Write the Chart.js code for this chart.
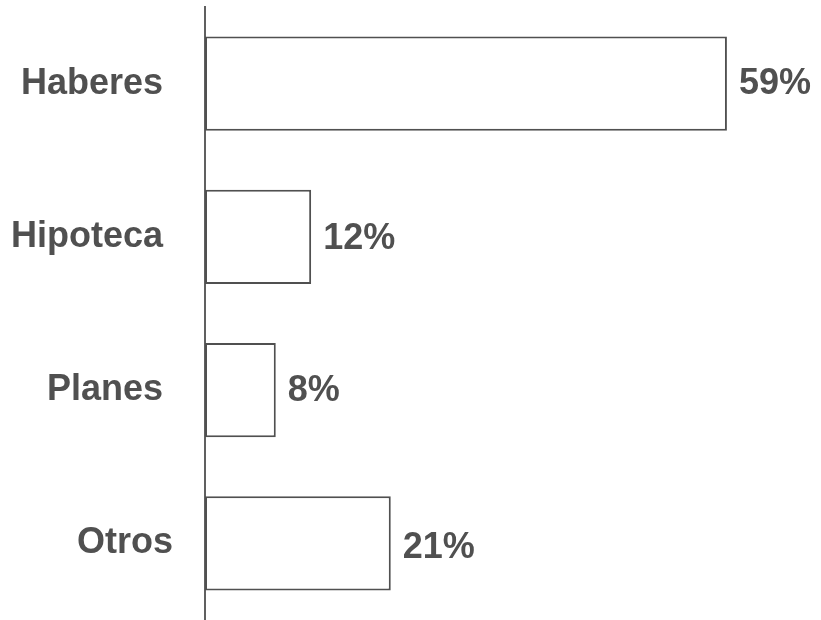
<!DOCTYPE html>
<html>
<head>
<meta charset="utf-8">
<script src="https://cdn.jsdelivr.net/npm/chart.js@4/dist/chart.umd.min.js"></script>
<style>
html,body{margin:0;padding:0;background:#fff;}
#wrap{width:821px;height:620px;position:relative;}
</style>
</head>
<body>
<div id="wrap"><canvas id="c"></canvas></div>
<script>
const categories = ["Haberes", "Hipoteca", "Planes", "Otros"];
const values = [59, 12, 8, 21];
const valueLabels = ["59%", "12%", "8%", "21%"];

const TEXT = "#505050";
const FONT = "'Liberation Sans', Arial, sans-serif";
// small per-label nudges seen in the reference (style only)
const catLabelDx = [0, 0, 0, 10];
const valLabelDy = [0, 2, 1, 5];

const labelPlugin = {
  id: "labels",
  afterDatasetsDraw(chart) {
    const ctx = chart.ctx;
    const meta = chart.getDatasetMeta(0);
    const yScale = chart.scales.y;
    ctx.save();
    ctx.font = "bold 36px " + FONT;
    ctx.fillStyle = TEXT;
    ctx.textBaseline = "middle";
    ctx.textAlign = "left";
    meta.data.forEach((bar, i) => {
      ctx.fillText(valueLabels[i], bar.x + 12, bar.y + valLabelDy[i]);
    });
    ctx.textAlign = "right";
    categories.forEach((c, i) => {
      const y = yScale.getPixelForTick(i);
      ctx.fillText(c, yScale.right - 42 + catLabelDx[i], y);
    });
    ctx.restore();
  }
};

new Chart(document.getElementById("c"), {
  type: "bar",
  data: {
    labels: categories,
    datasets: [{
      data: values,
      backgroundColor: "#ffffff",
      borderColor: TEXT,
      borderWidth: 2,
      borderSkipped: false,
      categoryPercentage: 1,
      barPercentage: 0.614
    }]
  },
  options: {
    indexAxis: "y",
    responsive: true,
    maintainAspectRatio: false,
    animation: false,
    layout: { padding: { top: 7, bottom: 0, left: 0, right: 41 } },
    plugins: { legend: { display: false }, tooltip: { enabled: false } },
    scales: {
      x: { display: false, min: 0, max: 65 },
      y: {
        grid: { display: false, drawTicks: false },
        border: { display: true, color: "#606060", width: 2 },
        ticks: { display: false },
        afterFit(scale) {
          scale.width = 205;
          scale.paddingTop = 0;
          scale.paddingBottom = 0;
        }
      }
    }
  },
  plugins: [labelPlugin]
});
</script>
</body>
</html>
